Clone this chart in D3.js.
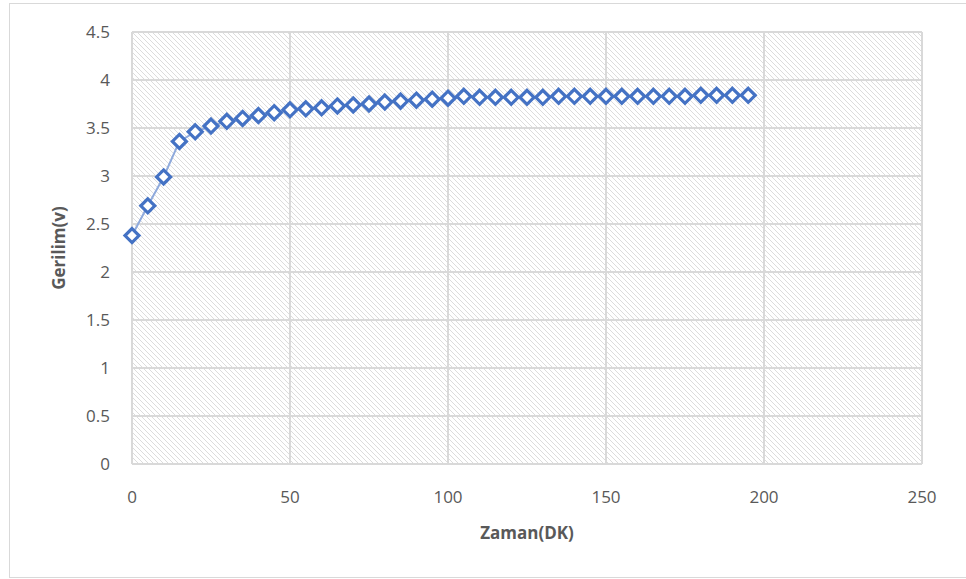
<!DOCTYPE html>
<html>
<head>
<meta charset="utf-8">
<script src="https://cdn.jsdelivr.net/npm/d3@7"></script>
<style>
  body { margin: 0; background: #fff; }
  text { font-family: "Open Sans", "Noto Sans", sans-serif; }
</style>
</head>
<body>
<div id="chart"></div>
<script>
// zaman (dk) ve gerilim (v) değerleri
const zaman = [0, 5, 10, 15, 20, 25, 30, 35, 40, 45, 50, 55, 60, 65, 70, 75, 80, 85, 90, 95,
  100, 105, 110, 115, 120, 125, 130, 135, 140, 145, 150, 155, 160, 165, 170, 175, 180, 185, 190, 195];
const gerilim = [2.38, 2.69, 2.99, 3.36, 3.46, 3.52, 3.57, 3.60, 3.63, 3.66, 3.69, 3.70, 3.71, 3.73, 3.74, 3.75, 3.77, 3.78, 3.79, 3.80,
  3.81, 3.83, 3.82, 3.82, 3.82, 3.82, 3.82, 3.83, 3.83, 3.83, 3.83, 3.83, 3.83, 3.83, 3.83, 3.83, 3.84, 3.84, 3.84, 3.84];
const xTicks = [0, 50, 100, 150, 200, 250];
const yTicks = [0, 0.5, 1, 1.5, 2, 2.5, 3, 3.5, 4, 4.5];

const width = 966, height = 579;
const margin = { left: 132, right: 44, top: 32, bottom: 115 };

const svg = d3.select("#chart").append("svg")
  .attr("width", width).attr("height", height);

// dış çerçeve
svg.append("rect")
  .attr("x", 9.5).attr("y", 3.5)
  .attr("width", width + 10).attr("height", 574)
  .attr("fill", "#fff").attr("stroke", "#d9d9d9").attr("stroke-width", 1);

// taralı desen
const defs = svg.append("defs");
const pat = defs.append("pattern")
  .attr("id", "hatch").attr("patternUnits", "userSpaceOnUse")
  .attr("width", 5).attr("height", 5);
pat.append("path")
  .attr("d", "M-1,-1 L6,6 M4,-1 L6,1 M-1,4 L1,6")
  .attr("stroke", "#dcdcdc").attr("stroke-width", 1);

const x = d3.scaleLinear().domain([0, 250]).range([margin.left, width - margin.right]);
const y = d3.scaleLinear().domain([0, 4.5]).range([height - margin.bottom, margin.top]);

svg.append("rect")
  .attr("x", x(0)).attr("y", y(4.5))
  .attr("width", x(250) - x(0)).attr("height", y(0) - y(4.5))
  .attr("fill", "url(#hatch)");

// ızgara çizgileri
svg.append("g").selectAll("line").data(yTicks).join("line")
  .attr("x1", x(0)).attr("x2", x(250))
  .attr("y1", d => y(d)).attr("y2", d => y(d))
  .attr("stroke", "#d9d9d9").attr("stroke-width", 2);
svg.append("g").selectAll("line").data(xTicks).join("line")
  .attr("x1", d => x(d)).attr("x2", d => x(d))
  .attr("y1", y(0)).attr("y2", y(4.5))
  .attr("stroke", "#d9d9d9").attr("stroke-width", 2);

// eksen etiketleri
svg.append("g").selectAll("text").data(xTicks).join("text")
  .attr("x", d => x(d)).attr("y", y(0) + 39)
  .attr("text-anchor", "middle")
  .attr("font-size", 17).attr("fill", "#595959")
  .text(d => d);
svg.append("g").selectAll("text").data(yTicks).join("text")
  .attr("x", x(0) - 22).attr("y", d => y(d) + 6)
  .attr("text-anchor", "end")
  .attr("font-size", 17).attr("fill", "#595959")
  .text(d => d);

svg.append("text")
  .attr("x", (x(0) + x(250)) / 2).attr("y", 539)
  .attr("text-anchor", "middle")
  .attr("font-size", 17).attr("font-weight", "bold").attr("fill", "#595959")
  .text("Zaman(DK)");
svg.append("text")
  .attr("transform", `translate(65,${(y(0) + y(4.5)) / 2}) rotate(-90)`)
  .attr("text-anchor", "middle")
  .attr("font-size", 17).attr("font-weight", "bold").attr("fill", "#595959")
  .text("Gerilim(v)");

// seri
const data = zaman.map((z, i) => ({ z: z, v: gerilim[i] }));
svg.append("path")
  .datum(data)
  .attr("fill", "none").attr("stroke", "#8faadc").attr("stroke-width", 2)
  .attr("d", d3.line().x(d => x(d.z)).y(d => y(d.v)));

const diamond = d3.symbol().type(d3.symbolDiamond2).size(125);
svg.append("g").selectAll("path").data(data).join("path")
  .attr("transform", d => `translate(${x(d.z)},${y(d.v)})`)
  .attr("d", diamond)
  .attr("fill", "#fff").attr("stroke", "#4472c4").attr("stroke-width", 3.2);
</script>
</body>
</html>
